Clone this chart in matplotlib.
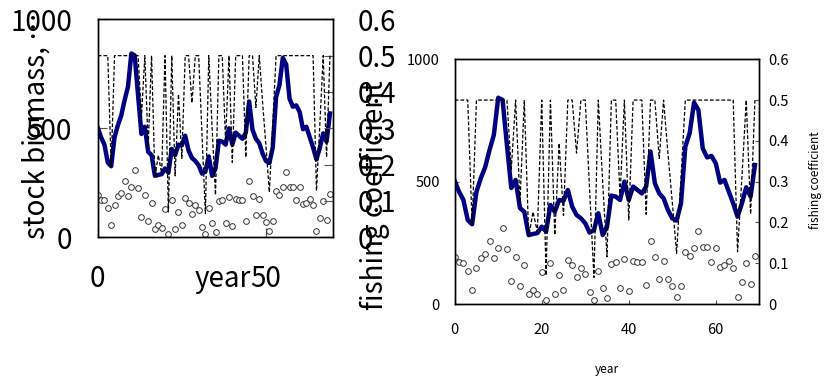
import matplotlib
matplotlib.use('Agg')
import matplotlib.pyplot as plt

years = list(range(70))
biomass = [503, 459, 425, 343, 326, 459, 514, 559, 629, 691,
           843, 834, 650, 474, 507, 392, 377, 282, 286, 290,
           316, 296, 405, 377, 425, 422, 466, 398, 364, 350,
           330, 292, 302, 371, 282, 316, 443, 439, 425, 500,
           425, 480, 466, 452, 480, 623, 493, 452, 432, 384,
           350, 341, 411, 643, 698, 823, 793, 636, 599, 605,
           575, 496, 507, 459, 411, 357, 411, 477, 439, 568]
catch = [192, 172, 169, 135, 57, 147, 188, 203, 259, 189,
         230, 309, 226, 94, 192, 74, 158, 40, 57, 41,
         131, 15, 169, 40, 117, 56, 180, 159, 109, 146,
         123, 48, 15, 136, 65, 25, 165, 172, 67, 184,
         53, 176, 170, 172, 76, 256, 191, 102, 174, 102,
         72, 27, 74, 211, 196, 230, 298, 233, 232, 170,
         229, 153, 159, 177, 147, 29, 89, 168, 80, 198]
fishing = [0.5, 0.5, 0.5, 0.5, 0.194, 0.5, 0.5, 0.5, 0.5, 0.5,
           0.5, 0.5, 0.5, 0.33, 0.5, 0.25, 0.5, 0.165, 0.226, 0.177,
           0.5, 0.07, 0.5, 0.169, 0.394, 0.217, 0.5, 0.5, 0.37, 0.5,
           0.5, 0.28, 0.065, 0.5, 0.3, 0.116, 0.5, 0.5, 0.263, 0.5,
           0.206, 0.5, 0.5, 0.5, 0.22, 0.5, 0.5, 0.357, 0.5, 0.37,
           0.25, 0.124, 0.31, 0.5, 0.5, 0.5, 0.5, 0.5, 0.5, 0.5,
           0.5, 0.5, 0.5, 0.5, 0.5, 0.128, 0.31, 0.5, 0.22, 0.5]

left_yticks = [0, 500, 1000]
right_yticks = [0, 0.1, 0.2, 0.3, 0.4, 0.5, 0.6]
right_yticklabels = ['0', '0.1', '0.2', '0.3', '0.4', '0.5', '0.6']

plt.rcParams['font.family'] = ['Noto Sans CJK JP', 'DejaVu Sans']

W, H = 839, 379
fig = plt.figure(figsize=(W / 100, H / 100), dpi=100)


def rect(l, t, r, b):
    return [l / W, 1 - b / H, (r - l) / W, (b - t) / H]


def panel(box, xticks, fs, tick_len, pads, lw, ms):
    ax = fig.add_axes(rect(*box))
    ax2 = ax.twinx()
    ax.plot(years, catch, linestyle='none', marker='o', markersize=ms,
            markerfacecolor='white', markeredgecolor='#333333',
            markeredgewidth=0.7, zorder=2)
    ax.plot(years, biomass, color='#000080', linewidth=lw, zorder=3,
            solid_joinstyle='round')
    ax2.plot(years, fishing, color='black', linewidth=0.9,
             linestyle=(0, (3, 1.6)), zorder=4)
    ax.set_xlim(0, 70)
    ax.set_ylim(0, 1000)
    ax2.set_ylim(0, 0.6)
    ax.set_xticks(xticks)
    ax.set_yticks(left_yticks)
    ax2.set_yticks(right_yticks)
    ax2.set_yticklabels(right_yticklabels)
    ax.tick_params(axis='x', direction='in', length=tick_len, labelsize=fs,
                   pad=pads[2], width=0.8, color='#555555')
    ax.tick_params(axis='y', direction='in', length=tick_len, labelsize=fs,
                   pad=pads[0], width=0.8, color='#555555')
    ax2.tick_params(axis='y', direction='in', length=tick_len, labelsize=fs,
                    pad=pads[1], width=0.8, color='#555555')
    for a in (ax, ax2):
        for s in a.spines.values():
            s.set_linewidth(1.0)
            s.set_color('black')
    return ax, ax2


# Left (large-font) panel
axL, axL2 = panel((97.7, 19.3, 333.3, 237.3), [0, 50], 20, 6.5,
                  (18.5, 17.8, 19.5), 3.2, 4.1)
axL.set_xlabel('year', fontsize=20, va='center')
axL.xaxis.set_label_coords((222.5 - 97.7) / (333.3 - 97.7),
                           (237.3 - 279) / (237.3 - 19.3))
axL.set_ylabel('stock biomass, …', fontsize=20, va='center')
axL.yaxis.set_label_coords((37 - 97.7) / (333.3 - 97.7),
                           (237.3 - 126) / (237.3 - 19.3))
axL2.set_ylabel('fishing coefficient', fontsize=20, va='center')
axL2.yaxis.set_label_coords((375 - 97.7) / (333.3 - 97.7),
                            (237.3 - 195) / (237.3 - 19.3))

# Right (small-font) panel
axR, axR2 = panel((454.7, 59.3, 759.3, 304), [0, 20, 40, 60], 10.5, 3,
                  (10.6, 6.3, 13.7), 3.2, 4.1)
axR.set_xlabel('year', fontsize=8.5, va='center')
axR.xaxis.set_label_coords((607 - 454.7) / (759.3 - 454.7),
                           (304 - 370) / (304 - 59.3))
axR2.set_ylabel('fishing coefficient', fontsize=8.5, va='center')
axR2.yaxis.set_label_coords((816 - 454.7) / (759.3 - 454.7),
                            (304 - 180) / (304 - 59.3))

fig.savefig('out.png', dpi=100)
